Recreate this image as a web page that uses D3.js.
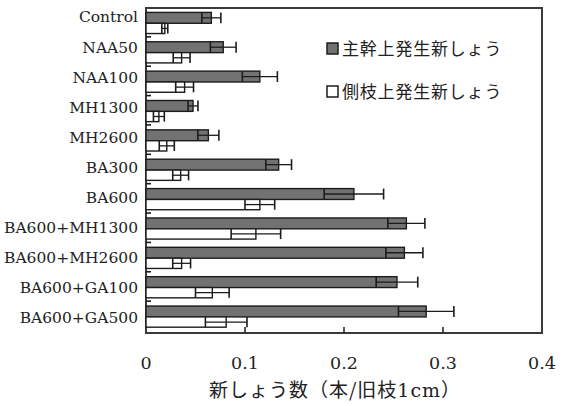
<!DOCTYPE html>
<html>
<head>
<meta charset="utf-8">
<script src="https://cdn.jsdelivr.net/npm/d3@7"></script>
<style>
  body { margin: 0; background: #fff; }
  svg { display: block; }
</style>
</head>
<body>
<div id="chart"></div>
<script>
// treatments, top to bottom
const categories = ['Control', 'NAA50', 'NAA100', 'MH1300', 'MH2600', 'BA300', 'BA600',
  'BA600+MH1300', 'BA600+MH2600', 'BA600+GA100', 'BA600+GA500'];
// 主幹上発生新しょう (main stem)
const mainMean = [0.066, 0.078, 0.115, 0.0475, 0.063, 0.134, 0.210, 0.263, 0.261, 0.2535, 0.283];
const mainErr  = [0.0096, 0.013, 0.0177, 0.005, 0.0106, 0.013, 0.030, 0.0187, 0.0187, 0.021, 0.028];
// 側枝上発生新しょう (lateral branch)
const sideMean = [0.019, 0.036, 0.039, 0.013, 0.021, 0.035, 0.115, 0.111, 0.036, 0.067, 0.081];
const sideErr  = [0.003, 0.0085, 0.009, 0.0055, 0.0076, 0.008, 0.015, 0.025, 0.009, 0.017, 0.021];
const xTicks = [0, 0.1, 0.2, 0.3, 0.4];
const legendLabels = ['主幹上発生新しょう', '側枝上発生新しょう'];

const width = 563, height = 406;
const serif = '"DejaVu Serif", "Liberation Serif", serif';
const cjk = '"Noto Sans CJK JP", sans-serif';
const grayFill = '#727272', ink = '#1c1c1c';

const svg = d3.select('#chart').append('svg')
  .attr('width', width)
  .attr('height', height);

const x = d3.scaleLinear().domain([0, 0.4]).range([146, 542]);
const y = d3.scaleBand().domain(categories).range([8, 331]).padding(0);
const labelY = d3.scalePoint().domain(categories).range([17, 318]);
const bw = y.bandwidth();

// frame
svg.append('rect')
  .attr('x', x(0)).attr('y', 8)
  .attr('width', x(0.4) - x(0)).attr('height', 333 - 8)
  .attr('fill', 'none').attr('stroke', '#3a3a3a').attr('stroke-width', 2);

// left ticks between categories
svg.selectAll('.ytick')
  .data(categories.slice(1))
  .enter().append('line')
  .attr('x1', x(0)).attr('x2', x(0) + 5)
  .attr('y1', (d) => y(d) - 0.5).attr('y2', (d) => y(d) - 0.5)
  .attr('stroke', ink).attr('stroke-width', 1.6);

// bottom ticks (inward)
svg.selectAll('.xtick')
  .data(xTicks.slice(1, -1))
  .enter().append('line')
  .attr('x1', (d) => x(d)).attr('x2', (d) => x(d))
  .attr('y1', 333).attr('y2', 327)
  .attr('stroke', ink).attr('stroke-width', 1.5);

const series = [
  { mean: mainMean, err: mainErr, fill: grayFill, off: 0.15, h: 0.37 },
  { mean: sideMean, err: sideErr, fill: '#ffffff', off: 0.52, h: 0.35 }
];

series.forEach((s) => {
  const g = svg.append('g');
  const rows = categories.map((c, i) => ({ c: c, m: s.mean[i], e: s.err[i] }));
  const top = (d) => y(d.c) + bw * s.off;
  const hh = bw * s.h;

  g.selectAll('rect')
    .data(rows)
    .enter().append('rect')
    .attr('x', x(0))
    .attr('y', top)
    .attr('width', (d) => x(d.m) - x(0))
    .attr('height', hh)
    .attr('fill', s.fill)
    .attr('stroke', ink)
    .attr('stroke-width', 1.4);

  // error bars
  g.selectAll('.err')
    .data(rows)
    .enter().append('line')
    .attr('x1', (d) => x(d.m - d.e)).attr('x2', (d) => x(d.m + d.e))
    .attr('y1', (d) => top(d) + hh / 2).attr('y2', (d) => top(d) + hh / 2)
    .attr('stroke', ink).attr('stroke-width', 1.3);

  [-1, 1].forEach((sign) => {
    g.selectAll('.cap' + sign)
      .data(rows)
      .enter().append('line')
      .attr('x1', (d) => x(d.m + sign * d.e)).attr('x2', (d) => x(d.m + sign * d.e))
      .attr('y1', (d) => top(d)).attr('y2', (d) => top(d) + hh)
      .attr('stroke', ink).attr('stroke-width', 1.6);
  });
});

// category labels
svg.selectAll('.cat')
  .data(categories)
  .enter().append('text')
  .attr('x', 138)
  .attr('y', (d) => labelY(d))
  .attr('dy', '0.35em')
  .attr('text-anchor', 'end')
  .style('font-family', serif)
  .style('font-size', '15.5px')
  .style('fill', '#222')
  .text((d) => d);

// x tick labels
svg.selectAll('.xlab')
  .data(xTicks)
  .enter().append('text')
  .attr('x', (d) => x(d))
  .attr('y', 369)
  .attr('text-anchor', 'middle')
  .style('font-family', serif)
  .style('font-size', '17.5px')
  .style('fill', '#222')
  .text((d) => d === 0 ? '0' : d3.format('.1f')(d));

// axis title
const title = svg.append('text')
  .attr('x', 335).attr('y', 397)
  .attr('text-anchor', 'middle')
  .style('font-family', cjk)
  .style('font-size', '19px')
  .style('letter-spacing', '1px')
  .style('fill', '#222');
title.append('tspan').text('新しょう数（本/旧枝');
title.append('tspan').style('font-family', serif).text('1cm');
title.append('tspan').text('）');

// legend
const legend = svg.selectAll('.legend')
  .data(legendLabels)
  .enter().append('g')
  .attr('transform', (d, i) => 'translate(327,' + (43 + i * 43) + ')');

legend.append('rect')
  .attr('width', 11).attr('height', 11)
  .attr('fill', (d, i) => i === 0 ? grayFill : '#fff')
  .attr('stroke', ink).attr('stroke-width', 1.5);

legend.append('text')
  .attr('x', 15).attr('y', 6)
  .attr('dy', '0.35em')
  .style('font-family', cjk)
  .style('font-size', '17px')
  .style('letter-spacing', '0.8px')
  .style('fill', '#222')
  .text((d) => d);
</script>
</body>
</html>
